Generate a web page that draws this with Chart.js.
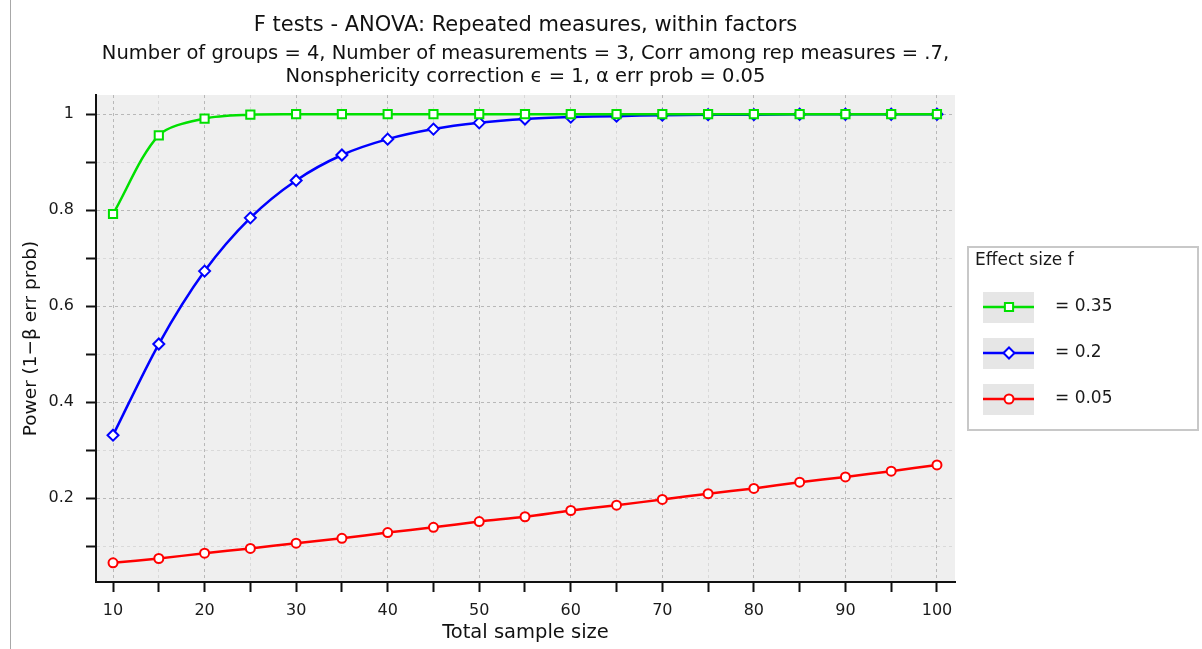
<!DOCTYPE html>
<html>
<head>
<meta charset="utf-8">
<title>F tests - ANOVA: Repeated measures, within factors</title>
<script src="https://cdn.jsdelivr.net/npm/chart.js@4.4.1/dist/chart.umd.min.js"></script>
<style>
  html, body { margin: 0; padding: 0; background: #ffffff; }
  #wrap { position: relative; width: 1202px; height: 649px; }
  #wrap canvas { position: absolute; left: 0; top: 0; }
  #edge { position: absolute; left: 10px; top: 0; width: 1px; height: 649px; background: #a8a8a8; }
</style>
</head>
<body>
<div id="wrap">
  <canvas id="powerChart" width="1202" height="649"></canvas>
  <div id="edge"></div>
</div>
<script>
// -------------------------------------------------------------
// Data read off the G*Power plot
// -------------------------------------------------------------
const sampleSizes = [10, 15, 20, 25, 30, 35, 40, 45, 50, 55, 60, 65, 70, 75, 80, 85, 90, 95, 100];

const power035 = [0.792, 0.956, 0.991, 0.999, 1, 1, 1, 1, 1, 1, 1, 1, 1, 1, 1, 1, 1, 1, 1];
const power020 = [0.331, 0.521, 0.673, 0.784, 0.862, 0.915, 0.948, 0.969, 0.982, 0.990,
                  0.994, 0.996, 0.998, 0.999, 0.999, 1, 1, 1, 1];
const power005 = [0.065, 0.074, 0.085, 0.095, 0.106, 0.116, 0.128, 0.139, 0.151, 0.161,
                  0.174, 0.185, 0.197, 0.209, 0.220, 0.233, 0.244, 0.256, 0.269];

const effectLabels = ['= 0.35', '= 0.2', '= 0.05'];

const xTicks = [10, 15, 20, 25, 30, 35, 40, 45, 50, 55, 60, 65, 70, 75, 80, 85, 90, 95, 100];
const yTicks = [0.1, 0.2, 0.3, 0.4, 0.5, 0.6, 0.7, 0.8, 0.9, 1.0];

const FONT = "'DejaVu Sans', Verdana, sans-serif";

// -------------------------------------------------------------
// Plugins: grey plot background + boxed legend on the right
// -------------------------------------------------------------
const plotBackground = {
  id: 'plotBackground',
  beforeDraw(chart) {
    const { ctx, chartArea: a } = chart;
    ctx.save();
    ctx.fillStyle = '#efefef';
    ctx.fillRect(a.left, a.top, a.right - a.left, a.bottom - a.top);
    ctx.restore();
  }
};

const effectLegend = {
  id: 'effectLegend',
  afterDraw(chart) {
    const { ctx, chartArea: a } = chart;
    const boxX = a.right + 13;
    const boxW = 230;
    const boxH = 183;
    const boxY = Math.round((a.top + a.bottom) / 2 - boxH / 2);

    ctx.save();
    ctx.fillStyle = '#ffffff';
    ctx.fillRect(boxX, boxY, boxW, boxH);
    ctx.strokeStyle = '#c8c8c8';
    ctx.lineWidth = 2;
    ctx.strokeRect(boxX, boxY, boxW, boxH);

    ctx.fillStyle = '#1a1a1a';
    ctx.font = '17px ' + FONT;
    ctx.textAlign = 'left';
    ctx.textBaseline = 'middle';
    ctx.fillText('Effect size f', boxX + 7, boxY + 14);

    chart.data.datasets.forEach((ds, i) => {
      const cy = boxY + 60 + i * 46;
      const sx = boxX + 15;
      ctx.fillStyle = '#e6e6e6';
      ctx.fillRect(sx, cy - 15, 51, 31);

      ctx.strokeStyle = ds.borderColor;
      ctx.lineWidth = ds.borderWidth;
      ctx.beginPath();
      ctx.moveTo(sx, cy);
      ctx.lineTo(sx + 51, cy);
      ctx.stroke();

      ctx.fillStyle = '#ffffff';
      ctx.lineWidth = ds.pointBorderWidth;
      Chart.helpers.drawPoint(ctx, {
        pointStyle: ds.pointStyle,
        radius: ds.pointRadius,
        rotation: 0,
        borderWidth: ds.pointBorderWidth
      }, sx + 26, cy);

      ctx.fillStyle = '#1a1a1a';
      ctx.font = '17px ' + FONT;
      ctx.fillText(effectLabels[i], boxX + 87, cy);
    });
    ctx.restore();
  }
};

// -------------------------------------------------------------
// Build chart
// -------------------------------------------------------------
function toPoints(values) {
  return sampleSizes.map((n, i) => ({ x: n, y: values[i] }));
}

function makeSeries(label, values, color, style, radius, width) {
  return {
    label: label,
    data: toPoints(values),
    borderColor: color,
    backgroundColor: color,
    borderWidth: width,
    pointStyle: style,
    pointRadius: radius,
    pointHoverRadius: radius,
    pointBorderWidth: 2,
    pointBorderColor: color,
    pointBackgroundColor: '#ffffff',
    tension: 0.3,
    fill: false
  };
}

const ctx = document.getElementById('powerChart').getContext('2d');

new Chart(ctx, {
  type: 'line',
  data: {
    datasets: [
      makeSeries(effectLabels[0], power035, '#00e000', 'rect', 5.8, 2.5),
      makeSeries(effectLabels[1], power020, '#0000ff', 'rectRot', 5.5, 2.5),
      makeSeries(effectLabels[2], power005, '#ff0000', 'circle', 4.5, 2.5)
    ]
  },
  options: {
    responsive: false,
    animation: false,
    layout: { padding: { left: 0, right: 247, top: 0, bottom: 0 } },
    plugins: {
      legend: { display: false },
      tooltip: { enabled: false },
      title: {
        display: true,
        fullSize: false,
        text: 'F tests - ANOVA: Repeated measures, within factors',
        color: '#111111',
        font: { family: FONT, size: 21, weight: 'normal', lineHeight: 1.2 },
        padding: { top: 13, bottom: 3 }
      },
      subtitle: {
        display: true,
        fullSize: false,
        text: [
          'Number of groups = 4, Number of measurements = 3, Corr among rep measures = .7,',
          'Nonsphericity correction \u03f5 = 1, \u03b1 err prob = 0.05'
        ],
        color: '#111111',
        font: { family: FONT, size: 19.5, weight: 'normal', lineHeight: 1.18 },
        padding: { top: 1.3, bottom: 6.5 }
      }
    },
    scales: {
      x: {
        type: 'linear',
        min: 8.14,
        max: 101.97,
        afterBuildTicks: (scale) => { scale.ticks = xTicks.map(v => ({ value: v })); },
        afterFit: (scale) => { scale.height = 67; },
        ticks: {
          autoSkip: false,
          maxRotation: 0,
          padding: 9,
          color: '#1a1a1a',
          font: { family: FONT, size: 16 },
          callback: (v) => (v % 10 === 0 ? String(v) : '')
        },
        grid: {
          color: (c) => (c.tick && c.tick.value % 10 === 0 ? '#b8b8b8' : '#d9d9d9'),
          lineWidth: 1,
          tickLength: 10,
          tickColor: '#111111',
          tickWidth: 2
        },
        border: { display: true, color: '#111111', width: 2, dash: [3, 3] },
        title: {
          display: true,
          text: 'Total sample size',
          color: '#111111',
          font: { family: FONT, size: 19.5 },
          padding: { top: 0, bottom: 4 }
        }
      },
      y: {
        type: 'linear',
        min: 0.025,
        max: 1.04,
        afterBuildTicks: (scale) => { scale.ticks = yTicks.map(v => ({ value: v })); },
        afterFit: (scale) => { scale.width = 96; },
        ticks: {
          padding: 12,
          color: '#1a1a1a',
          font: { family: FONT, size: 16 },
          callback: (v) => {
            const k = Math.round(v * 10);
            if (k % 2 !== 0) return '';
            return k === 10 ? '1' : (k / 10).toFixed(1);
          }
        },
        grid: {
          color: (c) => (c.tick && Math.round(c.tick.value * 10) % 2 === 0 ? '#b8b8b8' : '#d9d9d9'),
          lineWidth: 1,
          tickLength: 10,
          tickColor: '#111111',
          tickWidth: 2
        },
        border: { display: true, color: '#111111', width: 2, dash: [3, 3] },
        title: {
          display: true,
          text: 'Power (1\u2212\u03b2 err prob)',
          color: '#111111',
          font: { family: FONT, size: 18.5 },
          padding: { top: 20, bottom: 0 }
        }
      }
    }
  },
  plugins: [plotBackground, effectLegend]
});
</script>
</body>
</html>
